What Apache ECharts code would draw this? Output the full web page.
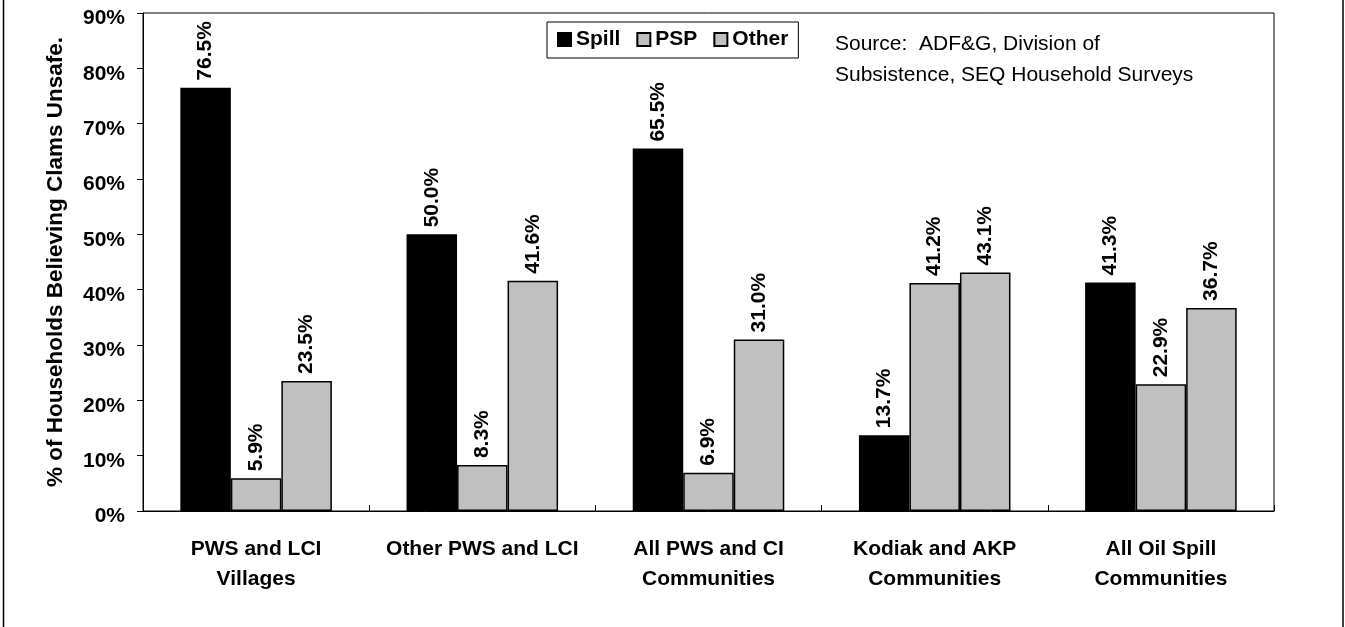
<!DOCTYPE html>
<html>
<head>
<meta charset="utf-8">
<script src="https://cdn.jsdelivr.net/npm/echarts@6/dist/echarts.min.js"></script>
<style>
html,body{margin:0;padding:0;background:#fff;}
#chart{width:1345px;height:627px;}
</style>
</head>
<body>
<div id="chart"></div>
<script>
const categories = [
  'PWS and LCI\nVillages',
  'Other PWS and LCI',
  'All PWS and CI\nCommunities',
  'Kodiak and AKP\nCommunities',
  'All Oil Spill\nCommunities'
];
const spillValues = [76.5, 50.0, 65.5, 13.7, 41.3];
const pspValues = [5.9, 8.3, 6.9, 41.2, 22.9];
const otherValues = [23.5, 41.6, 31.0, 43.1, 36.7];
const yTicks = { min: 0, max: 90, interval: 10 };
const yAxisTitle = '% of Households Believing Clams Unsafe.';
const sourceText = 'Source:  ADF&G, Division of\nSubsistence, SEQ Household Surveys';

const FONT = "'Liberation Sans', Arial, sans-serif";
const chart = echarts.init(document.getElementById('chart'), null, { renderer: 'canvas' });

function labelCfg() {
  return {
    show: true,
    position: 'top',
    rotate: 90,
    align: 'left',
    verticalAlign: 'middle',
    distance: 7,
    color: '#000',
    fontFamily: FONT,
    fontWeight: 'bold',
    fontSize: 21,
    formatter: p => p.value.toFixed(1) + '%'
  };
}

const option = {
  animation: false,
  backgroundColor: '#fff',
  grid: {
    left: 143, right: 71, top: 13, bottom: 116,
    show: true, borderColor: '#000', borderWidth: 1, backgroundColor: 'transparent'
  },
  legend: {
    left: 547, top: 22,
    orient: 'horizontal',
    borderColor: '#000', borderWidth: 1,
    padding: [7, 10, 8, 10],
    itemWidth: 13, itemHeight: 13, itemGap: 16,
    icon: 'rect',
    textStyle: { fontFamily: FONT, fontWeight: 'bold', fontSize: 21, color: '#000' },
    data: ['Spill', 'PSP', 'Other']
  },
  xAxis: {
    type: 'category',
    data: categories,
    axisLine: { lineStyle: { color: '#000', width: 1 } },
    axisTick: { show: true, inside: true, length: 6, lineStyle: { color: '#000' } },
    axisLabel: {
      interval: 0, margin: 23, color: '#000',
      fontFamily: FONT, fontWeight: 'bold', fontSize: 21, lineHeight: 30
    },
    splitLine: { show: false }
  },
  yAxis: {
    type: 'value',
    min: yTicks.min, max: yTicks.max, interval: yTicks.interval,
    name: yAxisTitle,
    nameLocation: 'middle',
    nameRotate: 90,
    nameGap: 76,
    nameTextStyle: { fontFamily: FONT, fontWeight: 'bold', fontSize: 22.5, color: '#000' },
    axisLine: { show: true, lineStyle: { color: '#000', width: 1 } },
    axisTick: { show: true, length: 6, lineStyle: { color: '#000' } },
    axisLabel: {
      margin: 18, color: '#000',
      fontFamily: FONT, fontWeight: 'bold', fontSize: 21,
      verticalAlign: 'top', lineHeight: 11,
      formatter: '{value}%'
    },
    splitLine: { show: false }
  },
  series: [
    {
      name: 'Spill', type: 'bar', data: spillValues,
      barGap: '0%', barCategoryGap: '33%',
      itemStyle: { color: '#000', borderColor: '#000', borderWidth: 1.5 },
      label: labelCfg()
    },
    {
      name: 'PSP', type: 'bar', data: pspValues,
      barGap: '0%', barCategoryGap: '33%',
      itemStyle: { color: '#c0c0c0', borderColor: '#000', borderWidth: 1.5 },
      label: labelCfg()
    },
    {
      name: 'Other', type: 'bar', data: otherValues,
      barGap: '0%', barCategoryGap: '33%',
      itemStyle: { color: '#c0c0c0', borderColor: '#000', borderWidth: 1.5 },
      label: labelCfg()
    }
  ],
  graphic: [
    {
      type: 'rect', silent: true, z: 100,
      shape: { x: 3.5, y: -10, width: 1339.5, height: 650 },
      style: { fill: null, stroke: '#000', lineWidth: 1.5 }
    },
    {
      type: 'text', left: 835, top: 29,
      style: {
        text: sourceText,
        fontFamily: FONT, fontSize: 21, fontWeight: 'normal',
        lineHeight: 31, fill: '#000'
      }
    }
  ]
};
chart.setOption(option);
</script>
</body>
</html>
